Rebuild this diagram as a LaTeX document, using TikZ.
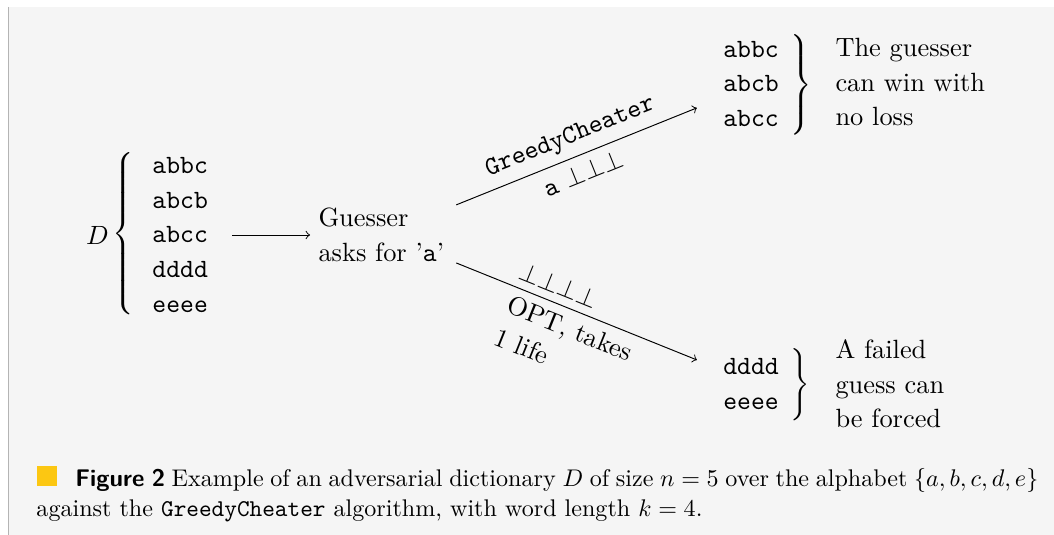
\documentclass[tikz,border=0pt]{standalone}
\usepackage{fontspec}
\usepackage{graphicx}
\definecolor{bgc}{HTML}{F5F5F5}
\definecolor{brd}{HTML}{B4B4B4}
\definecolor{lipy}{rgb}{0.99,0.78,0.07}
\tikzset{
  diag/.style={font=\fontsize{10.95}{14.4}\selectfont},
  words/.style={diag, inner sep=0pt, anchor=west},
  ttlist/.style={font=\fontsize{10.95}{14.4}\selectfont\ttfamily, align=left, inner sep=0pt, anchor=west},
  note/.style={diag, align=left, anchor=west},
  capt/.style={font=\fontsize{10}{12.9}\selectfont, inner sep=0pt, anchor=base west},
  arr/.style={->},
  lab/.style={diag, sloped},
}
\begin{document}
\begin{tikzpicture}[x=0.415pt,y=-0.415pt]
\useasboundingbox (0,0) rectangle (1054,535);
\fill[bgc] (8,7) rectangle (1054,535);
\draw[brd, line width=0.5pt] (8.5,7) -- (8.5,535);

\node[diag, inner sep=0pt] (dD) at (97.5,235) {$D$};
\node[diag, inner sep=0pt] (dbr) at (124.5,233.5) {\scalebox{1}[0.937]{$\left\{\vphantom{\begin{array}{l}a\\a\\a\\a\\a\end{array}}\right.$}};
\node[ttlist] (dict) at (152,235) {abbc\\abcb\\abcc\\dddd\\eeee};
\node[note] (guess) at (310,235) {Guesser\\asks for ’\texttt{a}’};
\node[words] (up) at (720,85) {$\left.\begin{array}{@{}l}\texttt{abbc}\\\texttt{abcb}\\\texttt{abcc}\end{array}\right\}$};
\node[note] (uptxt) at (827,82) {The guesser\\can win with\\no loss};
\node[words] (dn) at (720,385) {$\left.\begin{array}{@{}l}\texttt{dddd}\\\texttt{eeee}\end{array}\right\}$};
\node[note] (dntxt) at (827,384) {A failed\\guess can\\be forced};

\draw[arr, shorten <=10pt] (dict.east) -- (guess.west);
\draw[arr] ([xshift=1.5pt, yshift=12.5pt]guess.east) --
  node[lab, pos=0.505, above] (l1) {\texttt{GreedyCheater}}
  node[lab, pos=0.5, below] (l2) {\texttt{a} $\bot\bot\bot$}
  ([xshift=-9.6pt, yshift=-9.5pt]up.west);
\draw[arr] ([xshift=1.5pt, yshift=-11.6pt]guess.east) --
  node[lab, pos=0.4, above] (l3) {$\bot\bot\bot\bot$}
  node[lab, pos=0.5, below, align=left] (l4) {OPT, takes\\1 life}
  ([xshift=-9.6pt, yshift=10.4pt]dn.west);

\node[capt] (cap1) at (36.7,486) {\makebox[415.5pt][s]{\textcolor{lipy}{\rule{8.3pt}{8.3pt}}\hspace{7.6pt}\textsf{\bfseries Figure 2} Example of an adversarial dictionary $D$ of size $n=5$ over the alphabet $\{a,b,c,d,e\}$}};
\node[capt] (cap2) at (36,516.7) {against the \texttt{GreedyCheater} algorithm, with word length $k=4$.};
\end{tikzpicture}
\end{document}
